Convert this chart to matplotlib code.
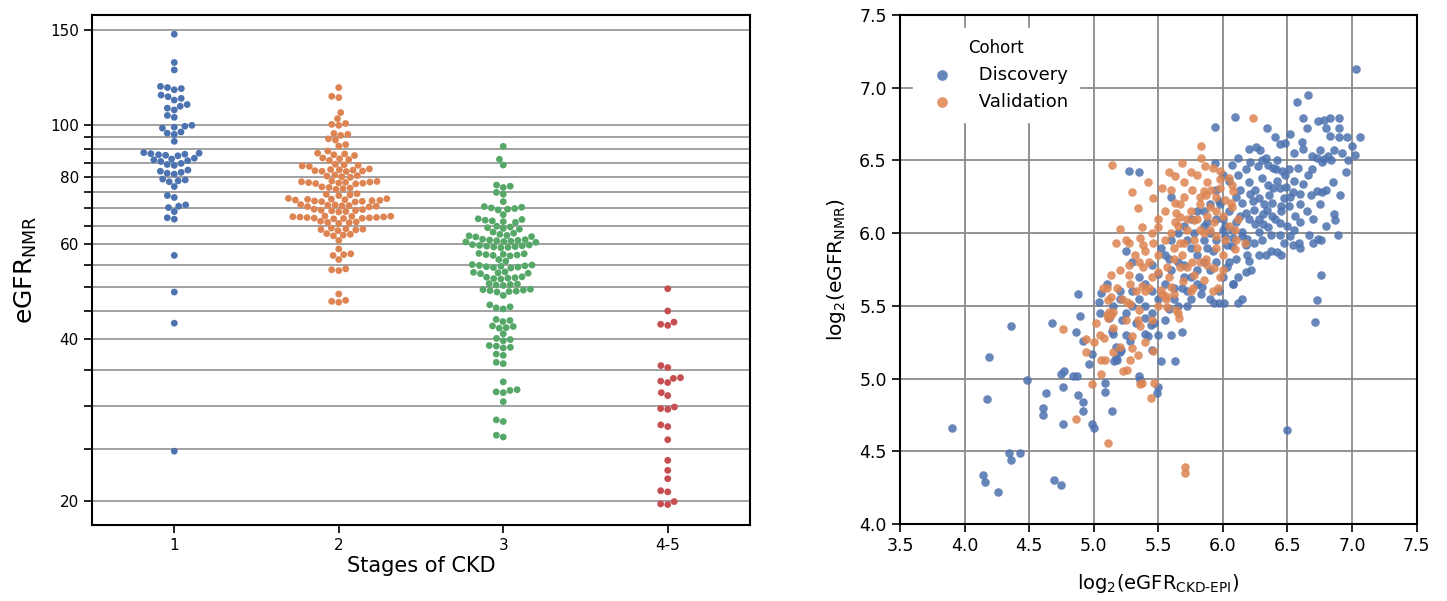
import numpy as np
import pandas as pd
import matplotlib
matplotlib.use('Agg')
import matplotlib.pyplot as plt
from matplotlib.ticker import NullLocator
import seaborn as sns

# colours (seaborn "deep")
c_blue, c_orange, c_green, c_red = '#4C72B0', '#DD8452', '#55A868', '#C44E52'

stages = ['1', '2', '3', '4-5']
stage1 = [147.4, 130.6, 126.5, 116.2, 116.8, 117.3, 117.9, 112.8, 113.6, 111.2, 112.0, 108.3, 109.1,
          106.6, 107.4, 103.3, 104.1, 98.6, 99.0, 99.4, 99.8, 96.0, 96.5, 97.0, 93.2,
          87.6, 87.8, 88.0, 88.2, 88.4, 88.6, 88.8, 85.5, 85.8, 86.1, 86.4, 86.7, 84.1, 84.4, 84.8,
          81.0, 81.3, 81.6, 82.0, 82.4, 78.4, 78.7, 79.0, 79.3, 76.8, 73.3, 73.9, 70.2, 70.6, 71.0,
          69.0, 66.8, 67.2, 57.2, 48.9, 42.8, 24.75]
stage2 = [117.3, 112.4, 113.0, 105.4, 102.7, 99.8, 100.2, 100.6, 95.6, 96.0, 96.4, 93.7, 94.2,
          91.3, 91.9, 89.4, 87.7, 88.0, 88.3, 88.6, 85.9, 86.2, 86.5, 86.8, 83.7, 83.9, 84.1, 84.3, 84.5,
          81.9, 82.0, 82.1, 82.2, 82.4, 82.5, 82.6, 82.8, 79.9, 80.1, 80.3, 80.5, 80.7,
          77.7, 77.8, 77.9, 78.0, 78.1, 78.2, 78.3, 78.4, 78.5, 78.6, 75.9, 76.1, 76.3, 76.5, 76.7,
          73.9, 74.1, 74.3, 74.5, 71.9, 72.0, 72.1, 72.2, 72.3, 72.4, 72.5, 72.6, 72.7, 72.8, 72.9, 73.0,
          70.4, 70.5, 70.6, 70.7, 70.8, 70.9, 71.0, 71.1, 68.9, 69.0, 69.2, 69.3, 69.4, 69.6, 69.7,
          66.9, 67.0, 67.05, 67.1, 67.2, 67.25, 67.3, 67.4, 67.45, 67.5, 67.6, 67.65, 67.7,
          65.6, 65.8, 65.9, 66.0, 66.2, 63.6, 63.8, 63.9, 64.0, 64.1, 64.3, 62.2, 62.4, 62.6, 62.8,
          61.0, 58.8, 57.2, 57.4, 57.6, 56.2, 53.6, 53.8, 54.0, 48.5, 46.8, 47.0, 47.2]
stage3 = [91.2, 86.3, 84.2, 76.5, 76.9, 77.3, 74.3, 74.9, 72.0, 69.5, 69.7, 69.9, 70.1, 70.3, 70.5,
          68.1, 65.9, 66.1, 66.3, 66.5, 66.7, 66.9, 64.0, 64.2, 64.4, 64.6, 64.8, 62.6, 62.9, 63.2,
          61.9, 62.0, 62.2, 62.3, 60.5, 60.6, 60.7, 60.8, 60.9, 61.0, 61.1, 61.2, 61.3,
          59.1, 59.2, 59.3, 59.4, 59.5, 59.6, 59.7, 59.8, 59.9, 57.1, 57.2, 57.3, 57.4, 57.5, 57.6, 57.7,
          55.8, 56.2, 54.2, 54.3, 54.4, 54.5, 54.6, 54.7, 54.8, 54.9, 55.0, 52.9, 53.0, 53.1, 53.2, 53.3,
          51.7, 51.8, 51.9, 52.0, 52.1, 52.2, 50.3, 50.4, 50.5, 50.6, 50.7,
          48.9, 49.0, 49.1, 49.2, 49.3, 49.4, 49.5, 48.2, 46.3, 45.5, 45.7, 45.9, 43.1, 43.3, 43.5,
          41.9, 42.0, 42.2, 42.3, 40.9, 39.7, 39.9, 40.1, 38.5, 38.6, 38.8, 38.9, 37.3, 37.5, 36.0, 36.2,
          33.3, 31.8, 31.9, 32.1, 32.2, 30.6, 28.1, 28.3, 26.3, 26.5]
stage45 = [49.6, 45.1, 42.4, 42.6, 43.0, 35.7, 35.4, 33.9, 33.8, 33.4, 33.2, 31.8, 31.4, 29.9, 29.6, 29.7,
           27.7, 27.5, 26.0, 23.8, 22.8, 22.0, 20.8, 20.9, 19.75, 19.7, 19.95]
y_ticks = [20, 25, 30, 35, 40, 45, 50, 55, 60, 65, 70, 75, 80, 85, 90, 95, 100, 150]
y_labeled = [20, 40, 60, 80, 100, 150]

# ---- right panel: log2(eGFR_CKD-EPI) vs log2(eGFR_NMR) ----
disc_x = [3.90, 4.14, 4.16, 4.26, 4.34, 4.36, 4.43, 4.36, 4.19, 4.17, 4.48, 4.69, 4.75, 4.61, 4.61, 4.63,
          4.68, 4.75, 4.77, 4.76, 4.76, 4.84, 4.87, 4.88, 4.89, 4.86, 4.88, 4.92, 4.92, 4.92, 4.96, 4.99,
          4.99, 5.00, 5.04, 5.06, 5.09, 5.09, 5.14, 5.14, 5.17, 5.17,
          6.50, 6.73, 6.71, 5.93, 5.97, 6.01, 6.12, 6.08, 5.84, 5.44, 5.47, 5.68, 5.52, 5.63, 5.50, 5.49,
          5.15, 5.20, 5.18, 5.21, 5.16, 5.28, 5.35, 5.36, 5.40, 5.42,
          7.03, 6.66, 6.57, 6.09, 5.94, 6.62, 6.74, 6.78, 6.83, 6.90, 6.65, 6.80, 6.83, 6.90, 6.90, 6.96,
          7.06, 6.52, 6.34, 6.40, 6.44, 6.61, 6.26, 6.29, 6.75, 6.69, 6.73, 6.86, 6.81, 6.84, 6.77, 6.78,
          7.02, 6.97, 6.33, 6.30, 6.21, 5.94, 5.27, 6.39, 6.41, 6.46, 6.51, 6.69, 6.39, 6.44, 6.49, 6.54,
          6.60, 6.68, 6.73, 6.77, 6.91, 6.15, 6.23, 6.32, 6.38, 6.45, 6.51, 6.60, 6.18, 6.24, 6.31, 6.38,
          6.45, 6.56, 6.86, 6.87, 6.25, 6.31, 6.35, 6.44, 6.00, 6.07, 6.15, 6.28, 6.37, 6.44, 6.67, 6.74,
          6.76, 6.89, 6.19, 6.24, 6.18, 6.02, 6.03, 6.07, 6.47, 6.54, 6.59, 6.70, 6.37, 6.42, 6.33, 6.28,
          6.19, 6.10, 6.20, 6.18, 6.76, 6.03, 6.08,
          5.55, 5.60, 5.65, 5.70, 5.75, 5.80, 5.85, 5.90, 5.95, 5.50, 5.45, 5.40, 5.35, 5.30, 5.25, 5.20,
          5.15, 5.60, 5.55, 5.70, 5.75, 5.80, 5.90, 5.85, 5.95, 5.60, 5.35, 5.65, 5.75, 5.80, 5.90, 5.25,
          5.30, 5.45, 5.50, 5.62, 5.72, 5.88, 6.00, 5.98, 5.90, 5.05, 5.10,
          6.20, 6.25, 6.30, 6.35, 6.42, 6.48, 6.55, 6.62, 6.66, 6.58, 6.52, 6.47, 6.36, 6.28, 6.21, 6.13,
          6.10, 6.05, 6.12, 6.18, 6.27, 6.35, 6.00, 6.05, 6.10, 6.13, 6.20, 6.28, 6.34, 6.40, 6.50, 6.55,
          6.60, 6.65, 6.70, 6.75, 6.80, 6.85, 6.95, 7.00, 6.92, 6.62, 6.55, 6.48, 6.42, 6.20, 6.12, 6.07,
          6.00, 5.95, 5.97, 6.02, 5.95, 5.92, 5.85, 5.80, 5.75, 5.70, 5.68, 5.62, 5.58, 5.55, 5.50, 5.45,
          5.40, 5.33, 5.30, 5.22, 5.20, 5.12, 5.25, 5.45, 5.60, 5.72, 5.83, 5.97, 6.05, 6.12, 6.15, 6.22,
          6.30, 6.45, 6.52, 6.60, 6.80, 6.15, 6.08, 5.88, 5.85, 5.78, 5.72, 5.65, 5.58, 5.52, 5.40, 5.35]
disc_y = [4.66, 4.34, 4.29, 4.22, 4.49, 4.44, 4.49, 5.36, 5.15, 4.86, 4.99, 4.30, 4.27, 4.80, 4.75, 4.90,
          5.38, 5.03, 5.05, 4.94, 4.69, 5.02, 5.02, 5.58, 5.43, 5.32, 4.89, 4.84, 4.78, 5.26, 5.10, 5.17,
          4.69, 4.66, 5.53, 5.59, 4.97, 4.91, 4.78, 5.33, 5.14, 5.22,
          4.65, 5.54, 5.39, 5.52, 5.52, 5.52, 5.52, 5.65, 5.63, 5.37, 5.38, 5.32, 5.12, 5.12, 4.94, 4.90,
          5.31, 5.18, 5.13, 5.20, 5.12, 5.26, 5.02, 4.99, 5.31, 5.29,
          7.13, 6.95, 6.90, 6.80, 6.73, 6.79, 6.77, 6.78, 6.79, 6.79, 6.72, 6.72, 6.67, 6.72, 6.66, 6.66,
          6.66, 6.68, 6.72, 6.66, 6.61, 6.63, 6.59, 6.57, 6.57, 6.53, 6.52, 6.57, 6.53, 6.50, 6.49, 6.51,
          6.54, 6.50, 6.52, 6.50, 6.49, 6.48, 6.43, 6.45, 6.44, 6.43, 6.44, 6.44, 6.31, 6.31, 6.32, 6.28,
          6.27, 6.26, 6.29, 6.28, 6.26, 6.21, 6.22, 6.20, 6.21, 6.19, 6.19, 6.20, 6.14, 6.16, 6.13, 6.12,
          6.15, 6.12, 6.13, 6.09, 6.06, 6.06, 6.04, 6.07, 6.02, 6.02, 6.01, 6.01, 5.99, 5.99, 5.99, 5.96,
          5.95, 5.99, 5.96, 5.93, 5.92, 5.98, 5.92, 5.91, 5.93, 5.92, 5.93, 5.93, 5.88, 5.87, 5.85, 5.85,
          5.85, 5.82, 5.81, 5.73, 5.71, 5.77, 5.65,
          5.65, 5.75, 5.80, 5.70, 5.90, 5.85, 5.95, 6.00, 5.80, 5.55, 5.60, 5.50, 5.70, 5.60, 5.45, 5.55,
          5.50, 5.95, 5.85, 6.05, 6.10, 6.15, 6.20, 6.05, 6.10, 6.25, 6.42, 5.50, 5.55, 5.65, 5.75, 5.88,
          5.80, 5.78, 5.72, 5.62, 5.60, 5.90, 5.70, 6.20, 5.55, 5.45, 5.65,
          6.35, 6.30, 6.38, 6.33, 6.36, 6.40, 6.36, 6.34, 6.40, 6.45, 6.25, 6.24, 6.26, 6.24, 6.27, 6.30,
          6.25, 6.36, 6.40, 6.44, 6.46, 6.47, 6.10, 6.15, 6.08, 6.12, 6.10, 6.10, 6.16, 6.10, 6.05, 6.02,
          6.08, 6.15, 6.10, 6.20, 6.30, 6.35, 6.42, 6.60, 6.55, 6.58, 6.55, 6.62, 6.50, 6.58, 6.52, 6.47,
          6.40, 6.30, 6.22, 6.05, 5.95, 5.88, 5.80, 5.75, 5.70, 5.78, 5.62, 5.55, 5.48, 5.40, 5.30, 5.45,
          5.42, 5.38, 5.50, 5.40, 5.60, 5.42, 5.30, 5.20, 5.30, 5.50, 5.58, 5.60, 5.80, 5.70, 5.55, 5.75,
          5.95, 5.85, 5.98, 5.90, 6.05, 5.98, 5.97, 6.08, 6.15, 6.00, 5.95, 6.00, 5.82, 5.90, 5.65, 5.55]
valid_x = [4.76, 4.86, 4.94, 4.94, 5.00, 4.99, 5.06, 5.09, 5.11, 5.07, 5.10, 5.11, 5.13, 5.11, 5.13, 5.15,
           5.71, 5.71, 5.44, 5.47, 5.37, 5.36, 5.23, 5.26, 5.06, 5.28, 5.34, 5.30, 5.30, 5.34, 5.36, 5.46,
           5.65, 5.66, 5.64, 5.57, 5.56, 5.26, 5.28, 5.12, 5.10, 5.96, 5.77, 5.53, 5.56,
           6.23, 5.14, 5.83, 5.83, 5.86, 5.68, 5.80, 5.63, 5.98, 5.98, 6.07, 6.06, 5.53, 5.46, 5.34, 5.37,
           5.36, 5.50, 5.17, 5.27, 5.38, 5.46, 5.63, 5.67, 5.70, 5.64, 5.63, 5.67, 5.82, 5.87, 5.82, 5.90,
           5.95, 6.02, 6.07, 6.08, 5.98, 5.91, 5.85, 5.72, 5.78, 5.82, 5.85, 5.90, 5.95, 5.78, 5.70, 5.67,
           6.09, 6.17, 6.09, 6.00, 5.87, 5.82, 5.76, 5.72, 5.67, 5.62, 5.57, 5.50, 5.43, 5.38, 5.35, 5.27,
           5.27, 5.20, 5.13, 5.28, 5.37, 5.43, 5.52, 5.60, 5.69, 5.78, 5.92, 5.88, 5.93,
           5.60, 5.65, 5.72, 5.75, 5.80, 5.88, 5.93, 6.00, 6.05, 5.95, 5.88, 5.76, 5.70, 5.60, 5.55, 5.50,
           5.45, 5.40, 5.32, 5.25, 5.20, 5.30, 5.42, 5.58, 5.75, 5.92, 6.05, 5.62, 5.55, 5.50, 5.58, 5.45,
           5.40, 5.33, 5.22, 5.18, 5.15, 5.20, 5.25, 5.40, 5.45, 5.50, 5.35, 5.62, 5.75, 5.85, 6.00, 6.10,
           6.12, 5.98, 5.05, 5.02, 5.08, 5.15, 5.68, 5.80, 5.95, 6.02]
valid_y = [5.34, 4.72, 5.27, 5.18, 5.25, 4.96, 5.03, 5.13, 4.56, 5.62, 5.62, 5.54, 5.56, 5.42, 5.44, 5.46,
           4.39, 4.35, 4.87, 4.97, 4.97, 4.96, 5.05, 5.06, 5.13, 5.13, 5.16, 5.21, 5.29, 5.40, 5.36, 5.19,
           5.45, 5.42, 5.47, 5.49, 5.55, 5.53, 5.51, 5.46, 5.44, 5.62, 5.62, 5.58, 5.57,
           6.79, 6.47, 6.60, 6.52, 6.46, 6.48, 6.40, 6.39, 6.43, 6.37, 6.33, 6.21, 6.31, 6.24, 6.17, 6.04,
           5.97, 6.04, 5.93, 5.93, 5.92, 5.93, 6.21, 6.20, 6.25, 6.14, 6.08, 6.11, 6.25, 6.26, 6.20, 6.18,
           6.15, 6.23, 6.18, 6.29, 6.31, 6.30, 6.29, 6.10, 6.09, 6.02, 6.00, 6.02, 5.98, 5.95, 5.93, 5.93,
           6.02, 5.93, 5.89, 5.85, 5.82, 5.80, 5.80, 5.77, 5.77, 5.82, 5.77, 5.73, 5.80, 5.77, 5.80, 5.78,
           5.71, 5.75, 5.71, 5.65, 5.64, 5.62, 5.61, 5.63, 5.67, 5.71, 5.60, 5.78, 5.76,
           6.00, 6.05, 6.02, 6.15, 6.10, 6.12, 6.08, 6.12, 6.05, 6.25, 6.35, 6.30, 6.35, 6.30, 6.15, 6.10,
           6.00, 5.88, 5.85, 5.95, 6.03, 6.28, 6.35, 6.42, 6.42, 6.45, 6.38, 5.90, 5.95, 5.85, 5.70, 5.70,
           5.60, 5.60, 5.55, 5.62, 5.35, 5.22, 5.40, 5.25, 5.40, 5.50, 5.47, 5.58, 5.60, 5.68, 5.75, 5.95,
           6.10, 5.70, 5.30, 5.38, 5.28, 5.18, 5.85, 5.90, 5.90, 5.95]

plt.rcParams['font.family'] = ['DejaVu Sans']
plt.rcParams['mathtext.default'] = 'regular'

fig = plt.figure(figsize=(14.47, 6.01), dpi=100)
ax1 = fig.add_axes([0.0636, 0.1265, 0.4547, 0.8485])
ax2 = fig.add_axes([0.622, 0.128, 0.357, 0.847])

# left: swarm on log axis
df = pd.DataFrame({
    'stage': ['1'] * len(stage1) + ['2'] * len(stage2) + ['3'] * len(stage3) + ['4-5'] * len(stage45),
    'egfr': stage1 + stage2 + stage3 + stage45,
})
ax1.set_yscale('log')
ax1.set_ylim(18.05, 160)
sns.swarmplot(data=df, x='stage', y='egfr', hue='stage', order=stages, hue_order=stages,
              palette=[c_blue, c_orange, c_green, c_red], size=4.9, legend=False, ax=ax1)
ax1.set_xlim(-0.5, 3.5)
ax1.set_yticks(y_ticks)
ax1.set_yticklabels([str(t) if t in y_labeled else '' for t in y_ticks])
ax1.yaxis.set_minor_locator(NullLocator())
ax1.yaxis.grid(True, color='#9a9a9a', linewidth=1.3)
ax1.set_axisbelow(True)
ax1.set_xlabel('Stages of CKD', fontsize=15, labelpad=2)
ax1.set_ylabel('$eGFR_{NMR}$', fontsize=18, labelpad=8)
ax1.tick_params(labelsize=11, length=6, width=1.2)

# right: scatter
ax2.scatter(disc_x, disc_y, s=38, color=c_blue, alpha=0.85, linewidths=0, label=' Discovery')
ax2.scatter(valid_x, valid_y, s=38, color=c_orange, alpha=0.85, linewidths=0, label=' Validation')
ax2.set_xlim(3.5, 7.5)
ax2.set_ylim(4.0, 7.5)
ax2.set_xticks(np.arange(3.5, 7.51, 0.5))
ax2.set_yticks(np.arange(4.0, 7.51, 0.5))
ax2.grid(True, color='#8a8a8a', linewidth=1.3)
ax2.set_axisbelow(True)
ax2.tick_params(labelsize=12.5, length=6, width=1.2)
ax2.set_xlabel('$log_2(eGFR_{CKD\u2010EPI})$', fontsize=14, labelpad=12)
ax2.set_ylabel('$log_2(eGFR_{NMR})$', fontsize=14.5, labelpad=8)
leg = ax2.legend(title='Cohort', loc='upper left', bbox_to_anchor=(0.008, 0.992), fontsize=13,
                 title_fontsize=12, frameon=True, framealpha=1, edgecolor='white', fancybox=False,
                 handletextpad=0.7, borderpad=0.6, markerscale=1.25)

for ax in (ax1, ax2):
    for sp in ax.spines.values():
        sp.set_color('black')
        sp.set_linewidth(1.5)

fig.savefig('out.png', dpi=100)
